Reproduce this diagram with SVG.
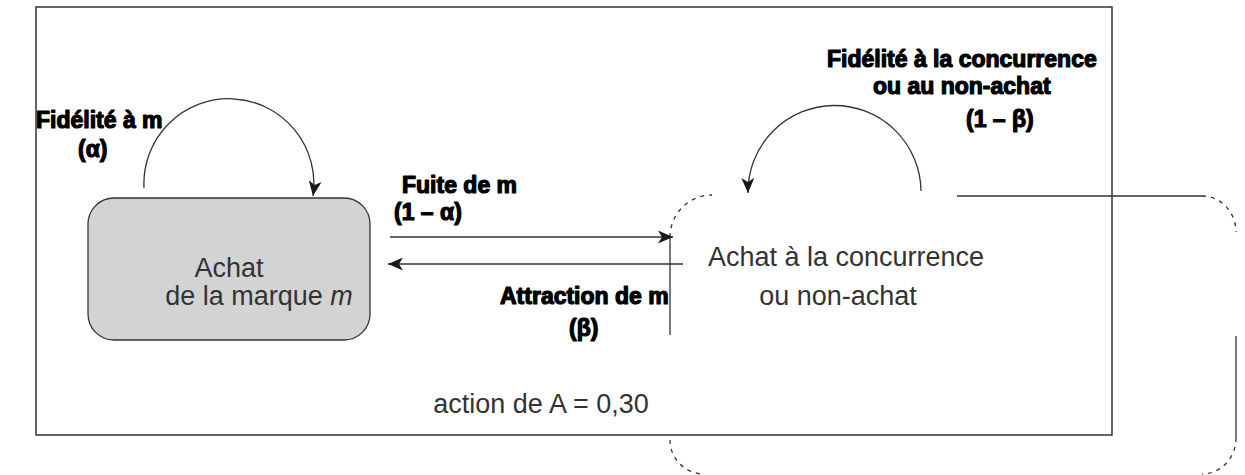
<svg xmlns="http://www.w3.org/2000/svg" width="1245" height="475" viewBox="0 0 1245 475">
  <style>
    .line { fill: none; stroke: #333; stroke-width: 1.3; }
    .dash { fill: none; stroke: #333; stroke-width: 1.3; stroke-dasharray: 4 5; }
    .lbl { font-family: "Liberation Sans", Arial, sans-serif; font-weight: bold; font-size: 23px; fill: #000; stroke: #000; stroke-width: 1.2; stroke-linejoin: round; }
    .txt { font-family: "Liberation Sans", Arial, sans-serif; font-size: 27px; fill: #333; }
  </style>
  <defs>
    <marker id="ah" markerUnits="userSpaceOnUse" markerWidth="17" markerHeight="13" refX="15" refY="6.5" orient="auto">
      <path d="M0,0 L15,6.5 L0,13 L4,6.5 Z" fill="#1a1a1a"/>
    </marker>
  </defs>

  <rect id="frame" x="36" y="7" width="1076" height="428" fill="none" stroke="#333" stroke-width="1.5"/>

  <g id="node-m">
    <rect x="88" y="198" width="282" height="142" rx="26" ry="26" fill="#d3d3d3" stroke="#333" stroke-width="1.3"/>
    <text class="txt" x="229" y="277" text-anchor="middle">Achat</text>
    <text class="txt" x="259" y="305" text-anchor="middle">de la marque <tspan font-style="italic">m</tspan></text>
  </g>

  <g id="node-concurrence">
    <path class="dash" d="M670,237 A42,42 0 0 1 712,195"/>
    <path class="dash" d="M1202,196 A34,36 0 0 1 1236,232"/>
    <path class="dash" d="M1236,438 A34,36 0 0 1 1202,474"/>
    <path class="dash" d="M670,440 A34,34 0 0 0 704,474"/>
    <path class="line" d="M957,196 H1202"/>
    <path class="line" d="M1236,336 V438"/>
    <path class="line" d="M670,237 V335"/>
    <text class="txt" x="846" y="266" text-anchor="middle">Achat à la concurrence</text>
    <text class="txt" x="838" y="305" text-anchor="middle">ou non-achat</text>
  </g>

  <g id="connectors">
    <path class="line" d="M144,188 A85,85 0 1 1 313,196" marker-end="url(#ah)"/>
    <path class="line" d="M921,191 A86,86 0 1 0 748,193" marker-end="url(#ah)"/>
    <path class="line" d="M390,237 H673" marker-end="url(#ah)"/>
    <path class="line" d="M683,264 H388" marker-end="url(#ah)"/>
  </g>

  <g id="labels">
    <text class="lbl" x="36" y="128">Fidélité à m</text>
    <text class="lbl" x="78" y="157">(α)</text>
    <text class="lbl" x="402" y="193">Fuite de m</text>
    <text class="lbl" x="394" y="220">(1 – α)</text>
    <text class="lbl" x="500" y="304">Attraction de m</text>
    <text class="lbl" x="569" y="336">(β)</text>
    <text class="lbl" x="827" y="67">Fidélité à la concurrence</text>
    <text class="lbl" x="873" y="94">ou au non-achat</text>
    <text class="lbl" x="966" y="127">(1 – β)</text>
    <text class="txt" x="541" y="413" text-anchor="middle">action de A = 0,30</text>
  </g>
</svg>
